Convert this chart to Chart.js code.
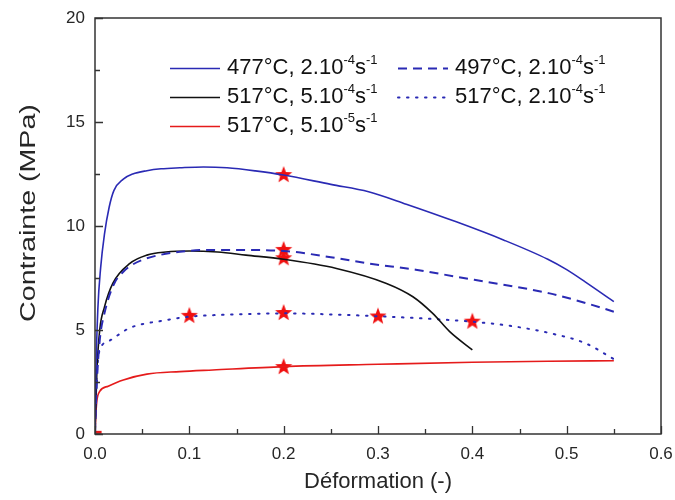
<!DOCTYPE html>
<html>
<head>
<meta charset="utf-8">
<script src="https://cdn.jsdelivr.net/npm/chart.js@4.4.1/dist/chart.umd.min.js"></script>
<style>
  html, body { margin: 0; padding: 0; background: #fff; }
  #wrap { width: 675px; height: 500px; }
</style>
</head>
<body>
<div id="wrap"><canvas id="myChart" width="675" height="500"></canvas></div>
<script>
// strain (-) and stress (MPa)
let blue477X = [0, 0.001, 0.003, 0.006, 0.01, 0.015, 0.02, 0.03, 0.04, 0.055, 0.07, 0.09, 0.115, 0.14, 0.17, 0.2, 0.25, 0.29, 0.33, 0.383, 0.433, 0.48, 0.5, 0.52, 0.55];
let blue477Y = [0, 3, 6, 8, 9.6, 10.9, 11.7, 12.25, 12.5, 12.66, 12.75, 12.8, 12.84, 12.8, 12.65, 12.45, 12.0, 11.65, 11.05, 10.2, 9.33, 8.4, 7.9, 7.3, 6.36];

let dash497X = [0, 0.002, 0.005, 0.01, 0.02, 0.03, 0.04, 0.055, 0.07, 0.09, 0.118, 0.15, 0.2, 0.25, 0.29, 0.34, 0.383, 0.43, 0.482, 0.52, 0.55];
let dash497Y = [0, 2.5, 4.5, 5.8, 7.2, 7.8, 8.15, 8.45, 8.62, 8.76, 8.85, 8.85, 8.8, 8.5, 8.2, 7.9, 7.56, 7.2, 6.76, 6.3, 5.88];

let black517X = [0, 0.002, 0.005, 0.01, 0.019, 0.037, 0.055, 0.075, 0.1, 0.13, 0.16, 0.2, 0.256, 0.309, 0.337, 0.358, 0.376, 0.4];
let black517Y = [0, 3, 5, 6.1, 7.25, 8.2, 8.6, 8.75, 8.8, 8.75, 8.6, 8.4, 7.96, 7.24, 6.6, 5.8, 4.92, 4.04];

let dot517X = [0, 0.001, 0.003, 0.005, 0.016, 0.037, 0.072, 0.1, 0.15, 0.2, 0.25, 0.3, 0.35, 0.4, 0.44, 0.482, 0.52, 0.55];
let dot517Y = [0, 2, 3.5, 4.04, 4.5, 5.1, 5.45, 5.64, 5.75, 5.8, 5.75, 5.66, 5.55, 5.4, 5.2, 4.85, 4.36, 3.6];

let red517X = [0, 0.001, 0.002, 0.005, 0.014, 0.03, 0.055, 0.09, 0.125, 0.2, 0.3, 0.4, 0.48, 0.55];
let red517Y = [0, 1.0, 1.6, 2.05, 2.3, 2.6, 2.88, 3.0, 3.08, 3.24, 3.35, 3.45, 3.5, 3.52];

// little red foot at the origin
let redFootX = [0, 0.007];
let redFootY = [0.08, 0.08];

// star markers
let starX = [0.2, 0.2, 0.2, 0.1, 0.2, 0.3, 0.4, 0.2];
let starY = [12.45, 8.85, 8.45, 5.68, 5.82, 5.65, 5.4, 3.22];

let labels = ['477°C, 2.10⁻⁴s⁻¹', '497°C, 2.10⁻⁴s⁻¹', '517°C, 5.10⁻⁴s⁻¹', '517°C, 2.10⁻⁴s⁻¹', '517°C, 5.10⁻⁵s⁻¹'];
let xTitle = 'Déformation (-)';
let yTitle = 'Contrainte (MPa)';

function pairs(xs, ys) {
  return xs.map(function (x, i) { return { x: x, y: ys[i] }; });
}

function makeStar(r, color) {
  let c = document.createElement('canvas');
  c.width = c.height = r * 2 + 2;
  let g = c.getContext('2d');
  g.fillStyle = color;
  g.beginPath();
  for (let i = 0; i < 10; i++) {
    let rr = i % 2 == 0 ? r : r * 0.42;
    let a = -Math.PI / 2 + i * Math.PI / 5;
    g.lineTo(r + 1 + rr * Math.cos(a), r + 1 + rr * Math.sin(a));
  }
  g.closePath();
  g.fill();
  return c;
}

const FONT = '"Liberation Sans", Arial, sans-serif';
const BLUE = '#2a2ab4';
const RED = '#e51b1b';
const BLACK = '#111111';
const TEXT = '#262626';

function drawRich(ctx, text, x, y, size) {
  const supMap = { '⁻': '-', '⁰': '0', '¹': '1', '²': '2', '³': '3', '⁴': '4', '⁵': '5', '⁶': '6', '⁷': '7', '⁸': '8', '⁹': '9' };
  let runs = [];
  for (const ch of text) {
    let sup = ch in supMap;
    let c = sup ? supMap[ch] : ch;
    if (runs.length && runs[runs.length - 1].sup === sup) runs[runs.length - 1].t += c;
    else runs.push({ t: c, sup: sup });
  }
  runs.forEach(function (r) {
    ctx.font = (r.sup ? Math.round(size * 0.58) : size) + 'px ' + FONT;
    ctx.fillText(r.t, x, r.sup ? y - size * 0.36 : y);
    x += ctx.measureText(r.t).width;
  });
}

let frameAndLegend = {
  id: 'frameAndLegend',
  afterDatasetsDraw(chart) {
    let ctx = chart.ctx;
    let a = chart.chartArea;
    let xs = chart.scales.x, ys = chart.scales.y;
    ctx.save();
    ctx.strokeStyle = '#333';
    ctx.lineWidth = 1.5;
    ctx.strokeRect(a.left, a.top, a.right - a.left, a.bottom - a.top);
    ctx.lineWidth = 1.3;
    ctx.beginPath();
    for (let i = 0; i <= 12; i++) {
      let px = Math.round(xs.getPixelForValue(i * 0.05)) + 0.5;
      let len = i % 2 == 0 ? 8 : 5;
      ctx.moveTo(px, a.bottom);
      ctx.lineTo(px, a.bottom - len);
    }
    for (let i = 0; i <= 8; i++) {
      let py = Math.round(ys.getPixelForValue(i * 2.5)) + 0.5;
      let len = i % 2 == 0 ? 8 : 5;
      ctx.moveTo(a.left, py);
      ctx.lineTo(a.left + len, py);
    }
    ctx.stroke();
    ctx.restore();
  },
  afterDraw(chart) {
    let ctx = chart.ctx;
    let a = chart.chartArea;

    // y title, stretched along its length like the source figure
    ctx.save();
    ctx.translate(29, (a.top + a.bottom) / 2 - 13);
    ctx.rotate(-Math.PI / 2);
    ctx.scale(1.3, 1);
    ctx.font = '22px ' + FONT;
    ctx.fillStyle = TEXT;
    ctx.textAlign = 'center';
    ctx.textBaseline = 'middle';
    ctx.fillText(yTitle, 0, 0);
    ctx.restore();

    let slots = [[0, 0], [1, 0], [0, 1], [1, 1], [0, 2]];
    let colX = [a.left + 75, a.left + 303];
    let rowY = [a.top + 50, a.top + 79, a.top + 108];
    ctx.save();
    ctx.textBaseline = 'middle';
    ctx.textAlign = 'left';
    chart.data.datasets.forEach(function (ds, i) {
      if (i >= slots.length) return;
      let x = colX[slots[i][0]], y = rowY[slots[i][1]];
      ctx.strokeStyle = ds.borderColor;
      ctx.lineWidth = ds.borderWidth;
      ctx.setLineDash(ds.borderDash || []);
      ctx.lineCap = ds.borderCapStyle || 'butt';
      ctx.beginPath();
      ctx.moveTo(x, y + 0.5);
      ctx.lineTo(x + 50, y + 0.5);
      ctx.stroke();
      ctx.setLineDash([]);
      ctx.fillStyle = '#111';
      drawRich(ctx, ds.label, x + 57, y, 22);
    });
    ctx.restore();
  }
};

let ctx = document.getElementById('myChart');
let myChart = new Chart(ctx, {
  type: 'scatter',
  data: {
    datasets: [
      { label: labels[0], data: pairs(blue477X, blue477Y), borderColor: BLUE, borderWidth: 1.6 },
      { label: labels[1], data: pairs(dash497X, dash497Y), borderColor: BLUE, borderWidth: 2, borderDash: [9, 6] },
      { label: labels[2], data: pairs(black517X, black517Y), borderColor: BLACK, borderWidth: 1.6 },
      { label: labels[3], data: pairs(dot517X, dot517Y), borderColor: BLUE, borderWidth: 2, borderDash: [1.5, 7.5], borderCapStyle: 'round' },
      { label: labels[4], data: pairs(red517X, red517Y), borderColor: RED, borderWidth: 1.6 },
      { label: 'foot', data: pairs(redFootX, redFootY), borderColor: RED, borderWidth: 3 },
      { label: 'stars', data: pairs(starX, starY), showLine: false, pointStyle: makeStar(9, '#f01010'), pointRadius: 9 }
    ].map(function (ds) {
      return Object.assign({ showLine: true, pointRadius: 0, fill: false, cubicInterpolationMode: 'monotone' }, ds);
    })
  },
  options: {
    responsive: false,
    animation: false,
    devicePixelRatio: 1,
    layout: { padding: { top: 18, right: 14, left: 0, bottom: 0 } },
    plugins: {
      legend: { display: false },
      tooltip: { enabled: false }
    },
    scales: {
      x: {
        type: 'linear',
        min: 0,
        max: 0.6,
        grid: { display: false, drawTicks: false },
        border: { display: false },
        ticks: {
          stepSize: 0.1,
          padding: 10,
          color: TEXT,
          font: { family: FONT, size: 17 },
          callback: function (v) { return v.toFixed(1); }
        },
        title: {
          display: true,
          text: xTitle,
          color: TEXT,
          font: { family: FONT, size: 22 },
          padding: { top: 0, bottom: 5 }
        },
        afterFit: function (s) { s.height = 66; s.paddingLeft = 0; s.paddingRight = 0; }
      },
      y: {
        type: 'linear',
        min: 0,
        max: 20,
        grid: { display: false, drawTicks: false },
        border: { display: false },
        ticks: {
          stepSize: 5,
          padding: 10,
          color: TEXT,
          font: { family: FONT, size: 17 }
        },
        title: { display: false },
        afterFit: function (s) { s.width = 95; s.paddingTop = 0; s.paddingBottom = 0; }
      }
    }
  },
  plugins: [frameAndLegend]
});
</script>
</body>
</html>
